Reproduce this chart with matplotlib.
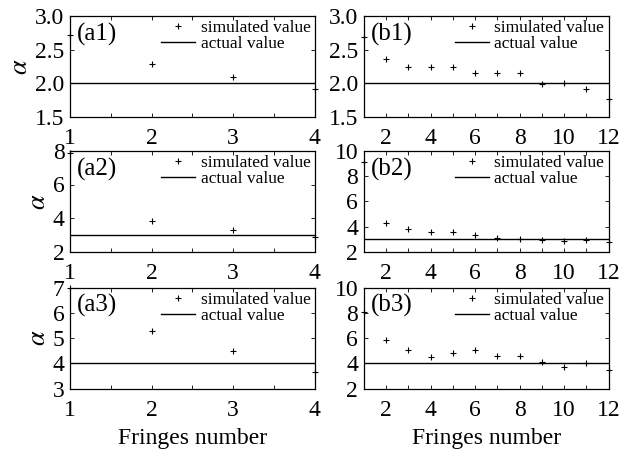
import matplotlib
matplotlib.use("Agg")
import matplotlib.pyplot as plt
from matplotlib.ticker import MultipleLocator, FormatStrFormatter

plt.rcParams["font.family"] = ["Liberation Serif", "DejaVu Serif"]
plt.rcParams["mathtext.fontset"] = "stix"

fringes_a = [1, 2, 3, 4]
fringes_b = [1, 2, 3, 4, 5, 6, 7, 8, 9, 10, 11, 12]

sim_a1 = [2.71, 2.29, 2.09, 1.91]
sim_a2 = [7.85, 3.85, 3.3, 2.9]
sim_a3 = [7.0, 5.27, 4.5, 3.65]
sim_b1 = [2.69, 2.36, 2.24, 2.24, 2.24, 2.15, 2.15, 2.15, 1.99, 2.0, 1.92, 1.76]
sim_b2 = [9.1, 4.3, 3.85, 3.6, 3.55, 3.35, 3.07, 3.0, 2.98, 2.9, 2.98, 2.78]
sim_b3 = [8.05, 5.85, 5.05, 4.5, 4.8, 5.1, 4.6, 4.6, 4.1, 3.7, 4.0, 3.45]

actual = [2, 3, 4]

panels = [
    # label, x, y, actual, ylim, ystep, fmt, column
    ("(a1)", fringes_a, sim_a1, actual[0], (1.5, 3.0), 0.5, "%.1f", 0),
    ("(a2)", fringes_a, sim_a2, actual[1], (2, 8), 2, "%d", 0),
    ("(a3)", fringes_a, sim_a3, actual[2], (3, 7), 1, "%d", 0),
    ("(b1)", fringes_b, sim_b1, actual[0], (1.5, 3.0), 0.5, "%.1f", 1),
    ("(b2)", fringes_b, sim_b2, actual[1], (2, 10), 2, "%d", 1),
    ("(b3)", fringes_b, sim_b3, actual[2], (2, 10), 2, "%d", 1),
]

fig = plt.figure(figsize=(6.36, 4.5), dpi=100)

lefts = [0.110, 0.572]
bottoms = [0.740, 0.440, 0.136]
width = 0.385
height = 0.225

for i, (lab, xs, ys, act, ylim, ystep, fmt, col) in enumerate(panels):
    row = i % 3
    ax = fig.add_axes([lefts[col], bottoms[row], width, height])
    ax.plot(xs, ys, "+", color="black", markersize=5, mew=0.8,
            clip_on=False, label="simulated value", zorder=3)
    ax.axhline(act, color="black", lw=1.0, label="actual value")
    ax.set_xlim(xs[0], xs[-1])
    ax.set_ylim(*ylim)
    ax.yaxis.set_major_locator(MultipleLocator(ystep))
    ax.yaxis.set_major_formatter(FormatStrFormatter(fmt))
    if col == 0:
        ax.xaxis.set_major_locator(MultipleLocator(1))
        ax.xaxis.set_minor_locator(MultipleLocator(0.5))
        ax.set_ylabel(r"$\alpha$", fontsize=19, labelpad=2)
    else:
        ax.set_xticks([2, 4, 6, 8, 10, 12])
        ax.xaxis.set_minor_locator(MultipleLocator(1))
    ax.tick_params(which="both", direction="in", top=True, right=True,
                   labelsize=17, width=0.6, length=3)
    ax.tick_params(axis="x", pad=8)
    ax.tick_params(axis="y", pad=4)
    for s in ax.spines.values():
        s.set_linewidth(0.9)
    ax.text(0.03, 0.82, lab, transform=ax.transAxes, fontsize=18,
            va="center", ha="left")
    ax.legend(loc="upper right", frameon=False, fontsize=12.5,
              handlelength=2.0, handletextpad=0.3, borderpad=0.1,
              labelspacing=0.0, borderaxespad=0.15)
    if row == 2:
        ax.set_xlabel("Fringes number", fontsize=17, labelpad=5)

fig.savefig("out.png", dpi=100)
